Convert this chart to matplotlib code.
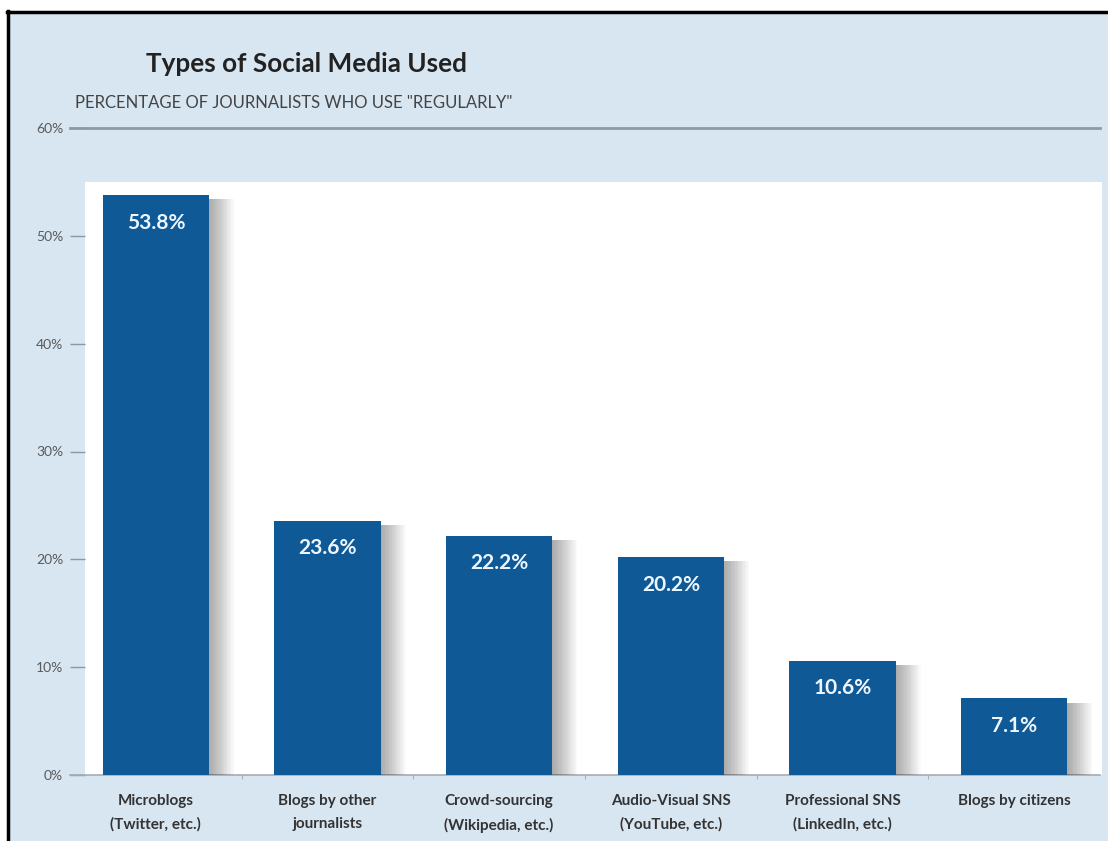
import matplotlib
matplotlib.use("Agg")
import matplotlib.pyplot as plt
from matplotlib.patches import Rectangle
from matplotlib.lines import Line2D
import matplotlib.patheffects as pe

categories = ["Microblogs\n(Twitter, etc.)", "Blogs by other\njournalists",
              "Crowd-sourcing\n(Wikipedia, etc.)", "Audio-Visual SNS\n(YouTube, etc.)",
              "Professional SNS\n(LinkedIn, etc.)", "Blogs by citizens"]
values = [53.8, 23.6, 22.2, 20.2, 10.6, 7.1]
value_labels = ["53.8%", "23.6%", "22.2%", "20.2%", "10.6%", "7.1%"]
yticks = [0, 10, 20, 30, 40, 50, 60]
ytick_labels = ["0%", "10%", "20%", "30%", "40%", "50%", "60%"]

W, H = 1108, 841
fig = plt.figure(figsize=(W / 100, H / 100), dpi=100, facecolor="white")
plt.rcParams['font.family'] = ['Lato', 'DejaVu Sans']

# chart background
fig.patches.append(Rectangle((8 / W, 0), 1 - 8 / W, 1 - 12 / H, transform=fig.transFigure,
                             facecolor="#d8e6f2", edgecolor="none", zorder=-5))
fig.lines.append(Line2D([8 / W, 8 / W], [0, 1 - 11 / H], transform=fig.transFigure,
                        color="black", lw=2.5, zorder=5))
fig.lines.append(Line2D([7 / W, 1], [1 - 12 / H, 1 - 12 / H], transform=fig.transFigure,
                        color="black", lw=2.5, zorder=5))

left, right = 70 / W, 1100 / W
bottom, top = 1 - 775 / H, 1 - 128 / H
ax = fig.add_axes([left, bottom, right - left, top - bottom])
ax.set_facecolor("none")

# white plot area
ax.add_patch(Rectangle((15 / 1030, 0), 1 - 15 / 1030 + 0.002, (775 - 182) / 647,
                       transform=ax.transAxes, facecolor="white", edgecolor="none",
                       zorder=0, clip_on=False))

x = list(range(len(categories)))
shadow = [pe.SimplePatchShadow(offset=(k, -3), shadow_rgbFace="#000000", alpha=0.018)
          for k in range(1, 19)]
bars = ax.bar(x, values, width=0.62, color="#0f5a96", zorder=3)
for b in bars:
    b.set_path_effects(shadow + [pe.Normal()])

for xi, v, lab in zip(x, values, value_labels):
    ax.annotate(lab, (xi, v), xytext=(0, -20), textcoords="offset points",
                ha="center", va="center", color="#eef6ff", fontsize=15,
                fontweight="bold", zorder=4)

ax.set_xlim(-0.5, len(categories) - 0.5)
ax.set_ylim(0, 60)
ax.set_yticks(yticks)
ax.set_yticklabels(ytick_labels)
ax.tick_params(axis="y", direction="in", length=10.5, width=1, color="#8c99a3",
               labelsize=10, labelcolor="#5a5a5a", pad=5)
ax.set_xticks(x)
ax.set_xticklabels(categories, fontsize=11, fontweight="bold", color="#333333",
                   linespacing=1.75)
ax.tick_params(axis="x", length=0, pad=14)
ax.set_xticks([i + 0.5 for i in range(len(categories) - 1)], minor=True)
ax.tick_params(axis="x", which="minor", length=3, color="#9aa5ad", direction="out")

for s in ["left", "right", "top"]:
    ax.spines[s].set_visible(False)
ax.spines["bottom"].set_color("#a5adb3")
ax.spines["bottom"].set_linewidth(1.2)
ax.axhline(60, color="#8a9aa6", lw=2, zorder=2, clip_on=False)

fig.text(146 / W, 1 - 64 / H, "Types of Social Media Used", fontsize=18.8,
         fontweight="bold", color="#222222", ha="left", va="center")
fig.text(75 / W, 1 - 103 / H, 'PERCENTAGE OF JOURNALISTS WHO USE "REGULARLY"',
         fontsize=12, color="#444444", ha="left", va="center")

fig.savefig("out.png", dpi=100, facecolor="white")
